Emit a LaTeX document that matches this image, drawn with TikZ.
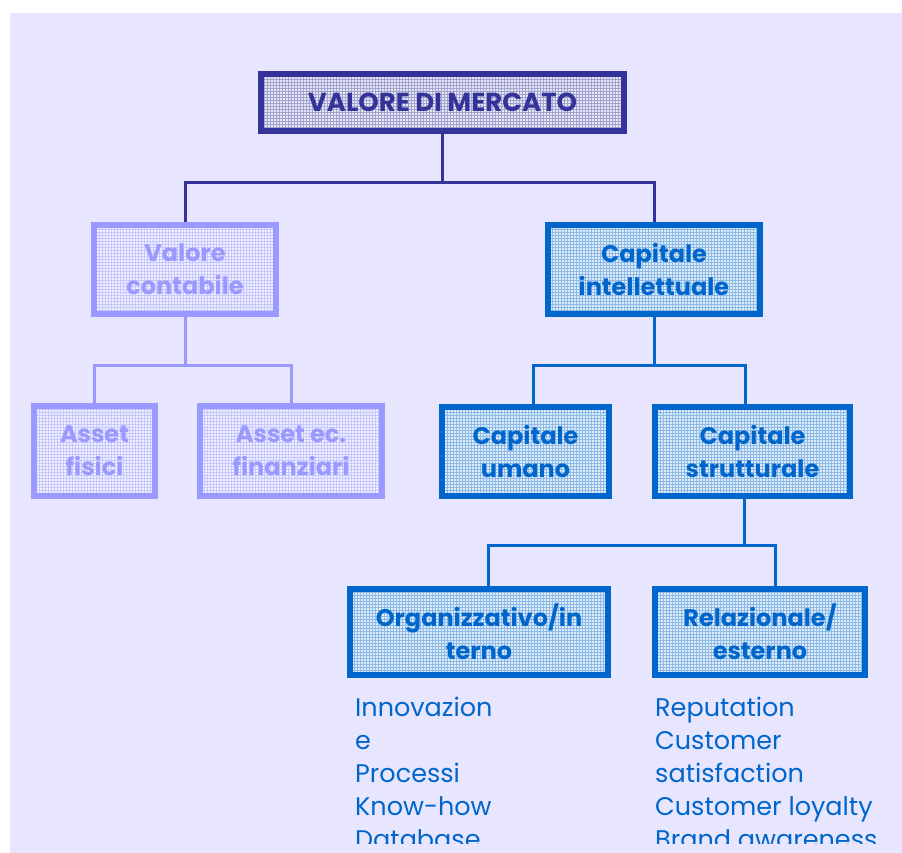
\documentclass[tikz,border=0pt]{standalone}
\usepackage{fontspec}
\usetikzlibrary{patterns}
\setmainfont{Poppins}
\definecolor{mktc}{HTML}{333399}
\definecolor{contc}{HTML}{9999FF}
\definecolor{intc}{HTML}{0066CC}
\definecolor{panelc}{HTML}{E8E6FF}
\begin{document}
\begin{tikzpicture}[x=1pt, y=-1pt,
        tb/.style={rectangle, draw=mktc, preaction={fill=mktc!12!white}, pattern=grid, pattern color=mktc!45!white, line width=6pt, text=mktc, inner sep=0, align=center, font=\bfseries\fontsize{24}{33}\selectfont},
        cb/.style={tb, draw=contc, preaction={fill=contc!15!white}, pattern color=contc!55!white, text=contc},
        ib/.style={tb, draw=intc, preaction={fill=intc!12!white}, pattern color=intc!45!white, text=intc},
        tl/.style={draw=mktc, line width=3pt},
        cl/.style={draw=contc, line width=3pt},
        il/.style={draw=intc, line width=3pt},
        lst/.style={inner sep=0, align=left, text=intc, font=\fontsize{25.5}{33}\selectfont},
    ]
    \useasboundingbox (0,0) rectangle (902,853);
    \fill[panelc] (10,13) rectangle (902,853);

    % boxes
    \node[tb, minimum width=363pt, minimum height=57pt, font=\bfseries\fontsize{26}{33}\selectfont] (mkt) at (442.5,102.5) {VALORE DI MERCATO};
    \node[cb, minimum width=182pt, minimum height=89pt] (cont) at (185,269.5) {Valore\\contabile};
    \node[ib, minimum width=212pt, minimum height=89pt] (intel) at (654,269.5) {Capitale\\intellettuale};
    \node[cb, minimum width=121pt, minimum height=90pt] (fis) at (94.5,451) {Asset\\fisici};
    \node[cb, minimum width=182pt, minimum height=90pt] (fin) at (291,451) {Asset ec.\\finanziari};
    \node[ib, minimum width=167pt, minimum height=89pt] (uman) at (525.5,451.5) {Capitale\\umano};
    \node[ib, minimum width=195pt, minimum height=89pt] (strut) at (752.5,451.5) {Capitale\\strutturale};
    \node[ib, minimum width=258pt, minimum height=86pt] (org) at (479,632) {Organizzativo/in\\terno};
    \node[ib, minimum width=210pt, minimum height=86pt] (rel) at (760,632) {Relazionale/\\esterno};

    % connectors
    \draw[tl] (mkt.south) -- ++(0,49) coordinate (mktj);
    \draw[tl] (cont.north) |- (mktj) -| (intel.north);
    \draw[cl] (cont.south) -- ++(0,48) coordinate (contj);
    \draw[cl] (fis.north) |- (contj) -| (fin.north);
    \draw[il] (intel.south) -- ++(0,48) coordinate (intj);
    \draw[il] ([xshift=7.5pt]uman.north) |- (intj) -| ([xshift=-7.5pt]strut.north);
    \draw[il] ([xshift=-8pt]strut.south) -- ++(0,46) coordinate (strj);
    \draw[il] ([xshift=9pt]org.north) |- (strj) -| ([xshift=15pt]rel.north);

    % lists under the two last boxes
    \begin{scope}
        \clip (10,13) rectangle (902,843);
        \node[lst, anchor=north west] (orgl) at (355,697) {Innovazion\\e\\Processi\\Know-how\\Database};
        \node[lst, anchor=north west] (rell) at (655,697) {Reputation\\Customer\\satisfaction\\Customer loyalty\\Brand awareness};
    \end{scope}
\end{tikzpicture}
\end{document}
